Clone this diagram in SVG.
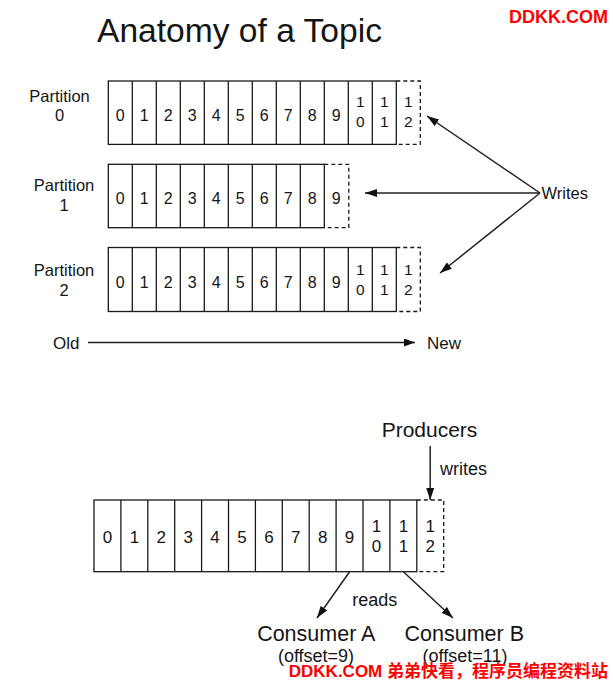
<svg xmlns="http://www.w3.org/2000/svg" width="613" height="681" viewBox="0 0 613 681">
<style>
text{font-family:"Liberation Sans",Arial,Helvetica,sans-serif;fill:#151515}
.cell{fill:#fff;stroke:#1a1a1a;stroke-width:1.3}
.div{fill:none;stroke:#1a1a1a;stroke-width:1.3}
.dash{fill:none;stroke:#1a1a1a;stroke-width:1.3;stroke-dasharray:4 3}
.d{font-size:16px;text-anchor:middle}
.d2{font-size:15.5px;text-anchor:middle}
.bd{font-size:17px;text-anchor:middle}
.lab{font-size:16.5px;text-anchor:middle}
.conn{fill:none;stroke:#222;stroke-width:1.5}
.wm{font-family:"Liberation Sans","Noto Sans CJK SC",sans-serif;font-weight:bold;fill:#f00;text-anchor:end}
</style>
<defs>
<marker id="ah" viewBox="0 0 12 8" refX="12" refY="4" markerWidth="12" markerHeight="8" orient="auto" markerUnits="userSpaceOnUse">
<path d="M0,0 L12,4 L0,8 z" fill="#111"/>
</marker>
<marker id="ahs" viewBox="0 0 11 8" refX="11" refY="4" markerWidth="11" markerHeight="8" orient="auto" markerUnits="userSpaceOnUse">
<path d="M0,0 L11,4 L0,8 z" fill="#111"/>
</marker>
</defs>
<rect width="613" height="681" fill="#fff"/>

<g id="title"><text x="97" y="42" font-size="33.6">Anatomy of a Topic</text></g>

<g id="partition0" transform="translate(0,81)">
<text class="lab" x="59.5" y="20.5">Partition</text>
<text class="lab" x="59.5" y="39.5">0</text>
<rect class="cell" x="108.3" y="0" width="288" height="63.4"/>
<path class="div" d="M132.3,0V63.4M156.3,0V63.4M180.3,0V63.4M204.3,0V63.4M228.3,0V63.4M252.3,0V63.4M276.3,0V63.4M300.3,0V63.4M324.3,0V63.4M348.3,0V63.4M372.3,0V63.4"/>
<path class="dash" d="M396.3,0H420.3V63.4H396.3"/>
<text class="d" x="120.3" y="39.7">0</text><text class="d" x="144.3" y="39.7">1</text><text class="d" x="168.3" y="39.7">2</text><text class="d" x="192.3" y="39.7">3</text><text class="d" x="216.3" y="39.7">4</text><text class="d" x="240.3" y="39.7">5</text><text class="d" x="264.3" y="39.7">6</text><text class="d" x="288.3" y="39.7">7</text><text class="d" x="312.3" y="39.7">8</text><text class="d" x="336.3" y="39.7">9</text>
<text class="d2" x="360.3" y="26.3">1</text><text class="d2" x="360.3" y="46.3">0</text>
<text class="d2" x="384.3" y="26.3">1</text><text class="d2" x="384.3" y="46.3">1</text>
<text class="d2" x="408.3" y="26.3">1</text><text class="d2" x="408.3" y="46.3">2</text>
</g>

<g id="partition1" transform="translate(0,164.3)">
<text class="lab" x="64" y="26.5">Partition</text>
<text class="lab" x="64" y="46.5">1</text>
<rect class="cell" x="108.3" y="0" width="216" height="63.4"/>
<path class="div" d="M132.3,0V63.4M156.3,0V63.4M180.3,0V63.4M204.3,0V63.4M228.3,0V63.4M252.3,0V63.4M276.3,0V63.4M300.3,0V63.4"/>
<path class="dash" d="M324.3,0H348.8V63.4H324.3"/>
<text class="d" x="120.3" y="39.7">0</text><text class="d" x="144.3" y="39.7">1</text><text class="d" x="168.3" y="39.7">2</text><text class="d" x="192.3" y="39.7">3</text><text class="d" x="216.3" y="39.7">4</text><text class="d" x="240.3" y="39.7">5</text><text class="d" x="264.3" y="39.7">6</text><text class="d" x="288.3" y="39.7">7</text><text class="d" x="312.3" y="39.7">8</text><text class="d" x="336.3" y="39.7">9</text>
</g>

<g id="partition2" transform="translate(0,247.5)">
<text class="lab" x="64" y="28">Partition</text>
<text class="lab" x="64" y="48">2</text>
<rect class="cell" x="108.3" y="0" width="288" height="64"/>
<path class="div" d="M132.3,0V64M156.3,0V64M180.3,0V64M204.3,0V64M228.3,0V64M252.3,0V64M276.3,0V64M300.3,0V64M324.3,0V64M348.3,0V64M372.3,0V64"/>
<path class="dash" d="M396.3,0H420.3V64H396.3"/>
<text class="d" x="120.3" y="40">0</text><text class="d" x="144.3" y="40">1</text><text class="d" x="168.3" y="40">2</text><text class="d" x="192.3" y="40">3</text><text class="d" x="216.3" y="40">4</text><text class="d" x="240.3" y="40">5</text><text class="d" x="264.3" y="40">6</text><text class="d" x="288.3" y="40">7</text><text class="d" x="312.3" y="40">8</text><text class="d" x="336.3" y="40">9</text>
<text class="d2" x="360.3" y="27">1</text><text class="d2" x="360.3" y="47">0</text>
<text class="d2" x="384.3" y="27">1</text><text class="d2" x="384.3" y="47">1</text>
<text class="d2" x="408.3" y="27">1</text><text class="d2" x="408.3" y="47">2</text>
</g>

<g id="writes"><text x="541.5" y="198.5" font-size="16.5">Writes</text></g>
<g id="old"><text x="53" y="348.5" font-size="17">Old</text></g>
<g id="new"><text x="427" y="348.5" font-size="17">New</text></g>

<g id="producers"><text x="429.5" y="436.7" font-size="21" text-anchor="middle">Producers</text></g>

<g id="log">
<rect class="cell" x="94" y="500" width="322.8" height="71.7"/>
<path class="div" d="M120.9,500V571.7M147.8,500V571.7M174.7,500V571.7M201.6,500V571.7M228.5,500V571.7M255.4,500V571.7M282.3,500V571.7M309.2,500V571.7M336.1,500V571.7M363,500V571.7M389.9,500V571.7"/>
<path class="dash" d="M416.8,500H443.7V571.7H416.8"/>
<text class="bd" x="107.5" y="543">0</text><text class="bd" x="134.4" y="543">1</text><text class="bd" x="161.3" y="543">2</text><text class="bd" x="188.2" y="543">3</text><text class="bd" x="215.1" y="543">4</text><text class="bd" x="242" y="543">5</text><text class="bd" x="268.9" y="543">6</text><text class="bd" x="295.8" y="543">7</text><text class="bd" x="322.7" y="543">8</text><text class="bd" x="349.6" y="543">9</text>
<text class="bd" x="376.5" y="532">1</text><text class="bd" x="376.5" y="551.5">0</text>
<text class="bd" x="403.4" y="532">1</text><text class="bd" x="403.4" y="551.5">1</text>
<text class="bd" x="430.3" y="532">1</text><text class="bd" x="430.3" y="551.5">2</text>
</g>

<g id="consumerA">
<text x="316.3" y="640.5" font-size="21.5" text-anchor="middle">Consumer A</text>
<text x="316" y="661.5" font-size="18" text-anchor="middle">(offset=9)</text>
</g>
<g id="consumerB">
<text x="464.3" y="640.5" font-size="21.5" text-anchor="middle">Consumer B</text>
<text x="465" y="661.5" font-size="18" text-anchor="middle">(offset=11)</text>
</g>

<g id="connectors">
<line class="conn" x1="540" y1="193" x2="427" y2="116" marker-end="url(#ah)"/>
<line class="conn" x1="540" y1="193" x2="365" y2="193" marker-end="url(#ah)"/>
<line class="conn" x1="540" y1="193" x2="440" y2="273" marker-end="url(#ah)"/>
<line class="conn" x1="88" y1="342.5" x2="415" y2="342.5" marker-end="url(#ahs)"/>
<line class="conn" x1="430.2" y1="446" x2="430.2" y2="500" marker-end="url(#ah)"/>
<text x="440" y="475" font-size="18">writes</text>
<line class="conn" x1="349.6" y1="571.7" x2="317" y2="618" marker-end="url(#ah)"/>
<line class="conn" x1="403.4" y1="571.7" x2="453" y2="618" marker-end="url(#ah)"/>
<text x="352.3" y="605.7" font-size="18">reads</text>
</g>

<g id="watermark">
<text class="wm" x="608" y="23" font-size="18">DDKK.COM</text>
<text class="wm" x="608" y="677" font-size="17">DDKK.COM 弟弟快看，程序员编程资料站</text>
</g>
</svg>
